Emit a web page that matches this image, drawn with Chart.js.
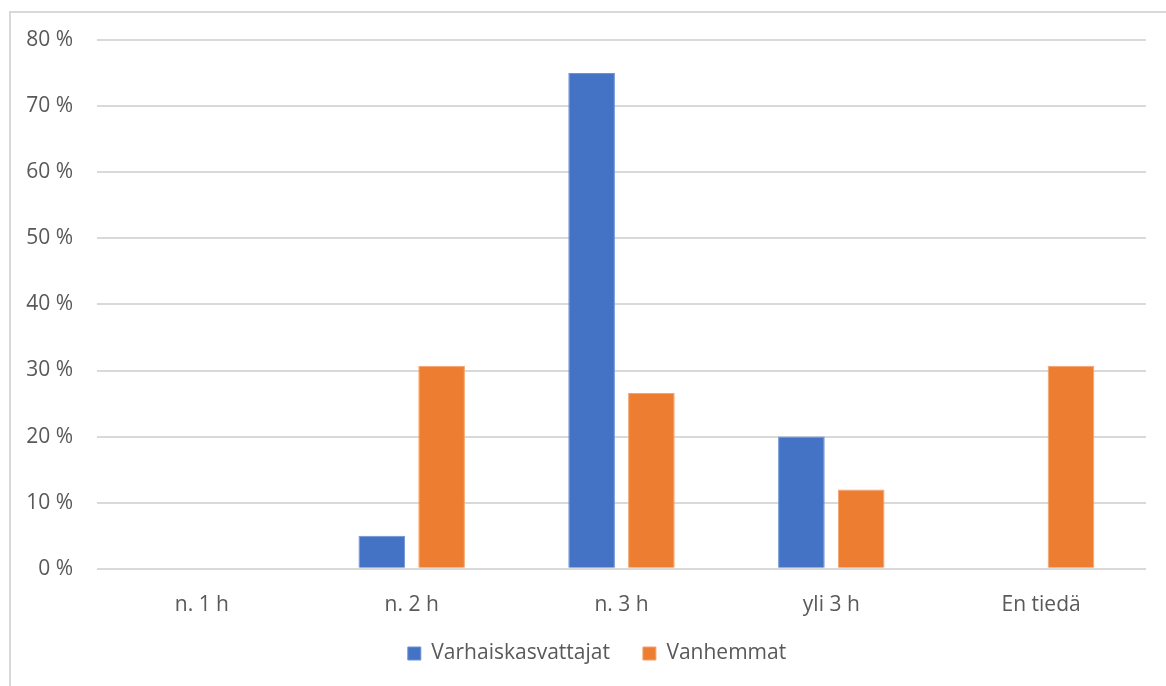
<!DOCTYPE html>
<html>
<head>
<meta charset="utf-8">
<script src="https://cdn.jsdelivr.net/npm/chart.js@4.4.0/dist/chart.umd.min.js"></script>
<style>
  html, body { margin: 0; padding: 0; background: #fff; overflow: hidden; }
  #frame { position: absolute; left: 9px; top: 11px; width: 1200px; height: 700px; border: 2px solid #d9d9d9; box-sizing: border-box; }
  #wrap { position: absolute; left: 0; top: 0; width: 1166px; height: 686px; }
</style>
</head>
<body>
<div id="frame"></div>
<div id="wrap"><canvas id="chart"></canvas></div>
<script>
const categories = ['n. 1 h', 'n. 2 h', 'n. 3 h', 'yli 3 h', 'En tiedä'];
const varhaiskasvattajat = [0, 5, 75, 20, 0];
const vanhemmat = [0, 30.7, 26.6, 12, 30.7];
const yTicks = [0, 10, 20, 30, 40, 50, 60, 70, 80];

const textColor = '#595959';
const fontFamily = '"Open Sans", sans-serif';

// move the legend up/right so the wide item spacing doesn't push it down
const legendShift = {
    id: 'legendShift',
    afterLayout(chart) {
        const lg = chart.legend;
        lg.top -= 32;
        lg.bottom -= 32;
        lg.left += 24;
        lg.right += 24;
    }
};

new Chart(document.getElementById('chart'), {
    type: 'bar',
    data: {
        labels: categories,
        datasets: [
            { label: 'Varhaiskasvattajat', data: varhaiskasvattajat, backgroundColor: '#4472c4', borderColor: '#6d92d6', borderWidth: 1 },
            { label: 'Vanhemmat', data: vanhemmat, backgroundColor: '#ed7d31', borderColor: '#f4a36c', borderWidth: 1 }
        ]
    },
    options: {
        responsive: true,
        maintainAspectRatio: false,
        animation: false,
        categoryPercentage: 0.57,
        barPercentage: 0.78,
        layout: { padding: { left: 0, right: 20, top: 40, bottom: -20 } },
        plugins: {
            tooltip: { enabled: false },
            legend: {
                position: 'bottom',
                labels: {
                    color: textColor,
                    font: { family: fontFamily, size: 21 },
                    boxWidth: 13,
                    boxHeight: 13,
                    padding: 33
                }
            }
        },
        scales: {
            x: {
                grid: { display: false, drawTicks: false },
                border: { display: false },
                ticks: { color: textColor, font: { family: fontFamily, size: 21 }, padding: 24 }
            },
            y: {
                min: 0,
                max: 80,
                afterFit: (scale) => { scale.width = 97; },
                afterBuildTicks: (scale) => { scale.ticks = yTicks.map(v => ({ value: v })); },
                grid: { color: '#d9d9d9', lineWidth: 2, drawTicks: false },
                border: { display: false },
                ticks: {
                    color: textColor,
                    font: { family: fontFamily, size: 21 },
                    padding: 24,
                    callback: (v) => v + ' %'
                }
            }
        }
    },
    plugins: [legendShift]
});
</script>
</body>
</html>
